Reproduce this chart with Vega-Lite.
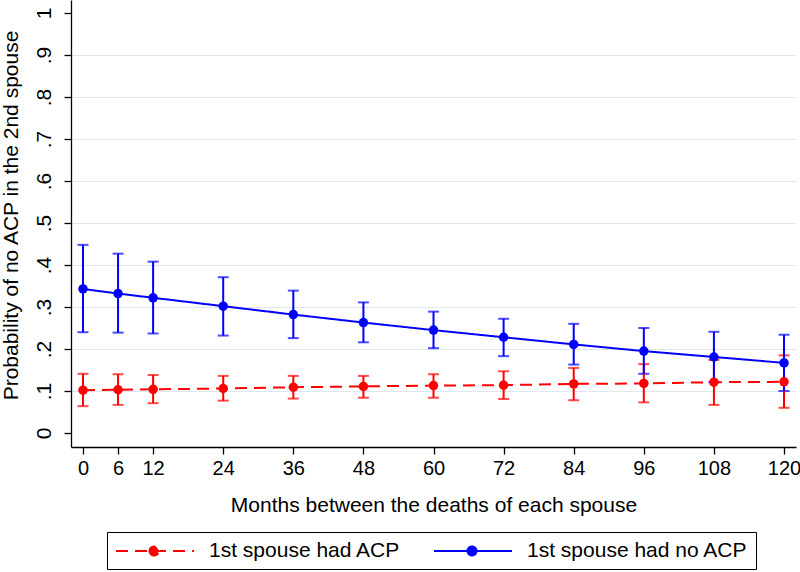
{
  "$schema": "https://vega.github.io/schema/vega-lite/v6.json",
  "width": 725,
  "height": 447,
  "autosize": {"type": "none"},
  "padding": {"left": 71, "top": 0, "right": 4, "bottom": 125},
  "background": "white",
  "config": {
    "view": {"stroke": null},
    "font": "Liberation Sans",
    "axis": {"labelFont": "Liberation Sans", "titleFont": "Liberation Sans", "labelColor": "black", "titleColor": "black", "titleFontWeight": "normal", "domainColor": "black", "tickColor": "black", "domainWidth": 1.3, "tickWidth": 1.3, "tickSize": 7},
    "legend": {
      "title": null,
      "orient": "none",
      "legendX": 36,
      "legendY": 532,
      "direction": "horizontal",
      "strokeColor": "black",
      "fillColor": "white",
      "padding": 8,
      "columnPadding": 29,
      "labelFont": "Liberation Sans",
      "labelFontSize": 21,
      "labelColor": "black",
      "labelLimit": 0,
      "labelOffset": 72,
      "symbolSize": 400,
      "symbolStrokeWidth": 2,
      "symbolType": "M-1,0H6.8M2.35,0A0.45,0.45,0,1,0,3.25,0A0.45,0.45,0,1,0,2.35,0Z"
    }
  },
  "data": {
    "values": [
      {"m": 0, "g": "1st spouse had ACP", "p": 0.102, "lo": 0.064, "hi": 0.141},
      {"m": 6, "g": "1st spouse had ACP", "p": 0.103, "lo": 0.067, "hi": 0.140},
      {"m": 12, "g": "1st spouse had ACP", "p": 0.104, "lo": 0.071, "hi": 0.138},
      {"m": 24, "g": "1st spouse had ACP", "p": 0.106, "lo": 0.077, "hi": 0.136},
      {"m": 36, "g": "1st spouse had ACP", "p": 0.109, "lo": 0.082, "hi": 0.136},
      {"m": 48, "g": "1st spouse had ACP", "p": 0.111, "lo": 0.084, "hi": 0.136},
      {"m": 60, "g": "1st spouse had ACP", "p": 0.113, "lo": 0.084, "hi": 0.140},
      {"m": 72, "g": "1st spouse had ACP", "p": 0.114, "lo": 0.081, "hi": 0.147},
      {"m": 84, "g": "1st spouse had ACP", "p": 0.117, "lo": 0.078, "hi": 0.155},
      {"m": 96, "g": "1st spouse had ACP", "p": 0.118, "lo": 0.073, "hi": 0.164},
      {"m": 108, "g": "1st spouse had ACP", "p": 0.121, "lo": 0.067, "hi": 0.174},
      {"m": 120, "g": "1st spouse had ACP", "p": 0.122, "lo": 0.060, "hi": 0.185},
      {"m": 0, "g": "1st spouse had no ACP", "p": 0.343, "lo": 0.240, "hi": 0.448},
      {"m": 6, "g": "1st spouse had no ACP", "p": 0.332, "lo": 0.239, "hi": 0.427},
      {"m": 12, "g": "1st spouse had no ACP", "p": 0.322, "lo": 0.237, "hi": 0.408},
      {"m": 24, "g": "1st spouse had no ACP", "p": 0.302, "lo": 0.232, "hi": 0.371},
      {"m": 36, "g": "1st spouse had no ACP", "p": 0.282, "lo": 0.226, "hi": 0.339},
      {"m": 48, "g": "1st spouse had no ACP", "p": 0.263, "lo": 0.216, "hi": 0.311},
      {"m": 60, "g": "1st spouse had no ACP", "p": 0.245, "lo": 0.202, "hi": 0.289},
      {"m": 72, "g": "1st spouse had no ACP", "p": 0.228, "lo": 0.183, "hi": 0.272},
      {"m": 84, "g": "1st spouse had no ACP", "p": 0.211, "lo": 0.163, "hi": 0.260},
      {"m": 96, "g": "1st spouse had no ACP", "p": 0.195, "lo": 0.141, "hi": 0.250},
      {"m": 108, "g": "1st spouse had no ACP", "p": 0.181, "lo": 0.121, "hi": 0.241},
      {"m": 120, "g": "1st spouse had no ACP", "p": 0.167, "lo": 0.100, "hi": 0.234}
    ]
  },
  "encoding": {
    "x": {
      "field": "m", "type": "quantitative",
      "scale": {"domain": [-2.054, 122.05], "nice": false, "zero": false},
      "axis": {
        "values": [0, 6, 12, 24, 36, 48, 60, 72, 84, 96, 108, 120],
        "grid": false,
        "title": "Months between the deaths of each spouse",
        "titleFontSize": 21,
        "titleBaseline": "alphabetic",
        "titleY": 64,
        "labelFontSize": 20,
        "labelBaseline": "alphabetic",
        "labelPadding": 20,
        "labelFlush": false
      }
    },
    "color": {
      "field": "g", "type": "nominal",
      "scale": {"domain": ["1st spouse had ACP", "1st spouse had no ACP"], "range": ["#ff0000", "#0000ff"]},
      "legend": {"encode": {"symbols": {"update": {"fill": {"scale": "color", "field": "value"}}}}}
    }
  },
  "layer": [
    {
      "mark": {"type": "errorbar", "ticks": {"size": 11, "thickness": 2}, "rule": {"strokeWidth": 2}},
      "encoding": {
        "y": {
          "field": "lo", "type": "quantitative",
          "scale": {"domain": [-0.0333, 1.031], "nice": false, "zero": false},
          "axis": {
            "values": [0, 0.1, 0.2, 0.3, 0.4, 0.5, 0.6, 0.7, 0.8, 0.9, 1],
            "labelExpr": "datum.value == 0 ? '0' : datum.value == 1 ? '1' : replace(format(datum.value, '.1f'), '0.', '.')",
            "labelAngle": 270,
            "labelAlign": "center",
            "labelBaseline": "alphabetic",
            "labelPadding": 14,
            "labelFontSize": 21,
            "labelFlush": false,
            "grid": true,
            "gridColor": "#dde7ed",
            "gridWidth": 1.2,
            "gridOpacity": {"condition": {"test": "datum.value == 0 || datum.value == 1", "value": 0}, "value": 1},
            "title": "Probability of no ACP in the 2nd spouse",
            "titleFontSize": 21,
            "titleAngle": 270,
            "titleBaseline": "alphabetic",
            "titleAlign": "center",
            "titleX": -54,
            "titleY": 215
          }
        },
        "y2": {"field": "hi"}
      }
    },
    {
      "mark": {"type": "line", "strokeWidth": 2},
      "encoding": {
        "y": {"field": "p", "type": "quantitative"},
        "strokeDash": {
          "field": "g", "type": "nominal",
          "scale": {"domain": ["1st spouse had ACP", "1st spouse had no ACP"], "range": [[12, 7], [1, 0]]}
        }
      }
    },
    {
      "mark": {"type": "point", "filled": true, "size": 90, "opacity": 1},
      "encoding": {
        "y": {"field": "p", "type": "quantitative"}
      }
    }
  ]
}
